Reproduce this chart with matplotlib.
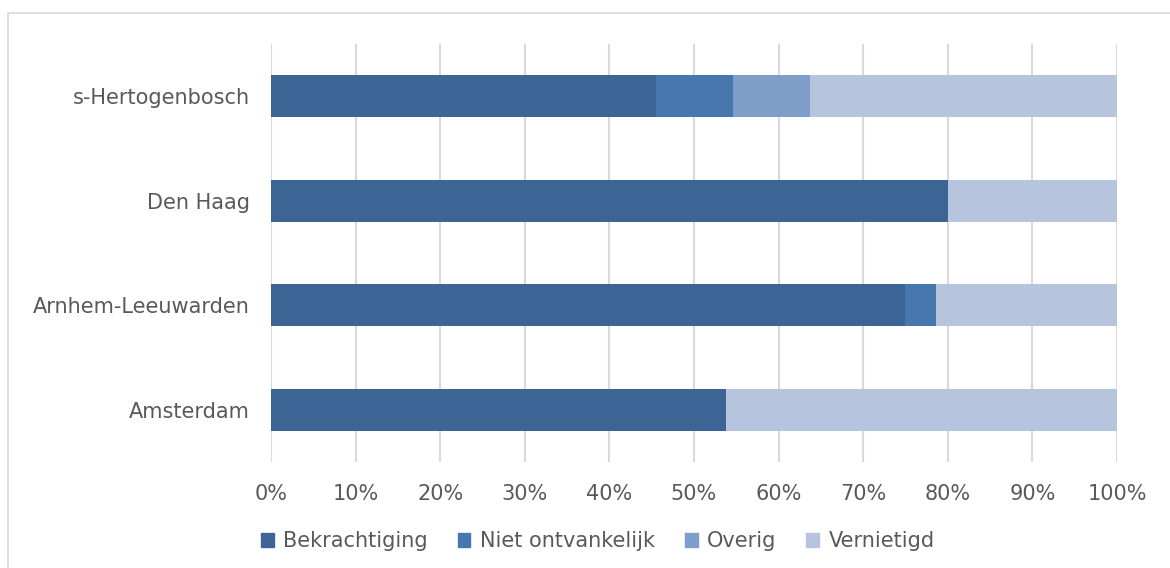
import matplotlib.pyplot as plt
import matplotlib.patches as mpatches
import numpy as np

# data (percent share per court)
courts = ['Amsterdam', 'Arnhem-Leeuwarden', 'Den Haag', 's-Hertogenbosch']
bekrachtiging = [53.8, 75.0, 80.0, 45.5]
niet_ontvankelijk = [0.0, 3.6, 0.0, 9.1]
overig = [0.0, 0.0, 0.0, 9.1]
vernietigd = [46.2, 21.4, 20.0, 36.3]

series = ['Bekrachtiging', 'Niet ontvankelijk', 'Overig', 'Vernietigd']
colors = ['#3C6494', '#4677AD', '#7F9DC9', '#B6C4DE']
text_color = '#595959'

plt.rcParams['font.family'] = ['DejaVu Sans']

fig = plt.figure(figsize=(11.7, 5.68), dpi=100)
ax = fig.add_axes([0.2316, 0.1866, 0.7231, 0.7359])

# outer chart border
fig.patches.append(mpatches.Rectangle((8 / 1170, -0.01), 1.2, 1 - 13 / 568 + 0.01,
                                      transform=fig.transFigure, fill=False,
                                      edgecolor='#D9D9D9', linewidth=1.2))

y = np.arange(len(courts))
left = np.zeros(len(courts))
for name, vals, c in zip(series, [bekrachtiging, niet_ontvankelijk, overig, vernietigd], colors):
    vals = np.array(vals)
    ax.barh(y, vals, left=left, height=0.4, color=c, label=name, zorder=3)
    left += vals

ax.set_xlim(0, 100)
ax.set_ylim(-0.5, 3.5)
ax.set_xticks(np.arange(0, 101, 10))
ax.set_xticklabels([f'{v}%' for v in range(0, 101, 10)])
ax.set_yticks(y)
ax.set_yticklabels(courts)
ax.tick_params(axis='both', length=0, labelsize=15, colors=text_color)
ax.tick_params(axis='x', pad=16)
ax.tick_params(axis='y', pad=15)
ax.xaxis.grid(True, color='#D9D9D9', linewidth=1.5, zorder=0)
for s in ax.spines.values():
    s.set_visible(False)

handles = [mpatches.Patch(color=c) for c in colors]
leg = fig.legend(handles, series, loc='center', bbox_to_anchor=(0.511, 0.047), ncol=4,
                 frameon=False, fontsize=15, handlelength=0.6, handleheight=0.6,
                 handletextpad=0.45, columnspacing=1.45)
for t in leg.get_texts():
    t.set_color(text_color)

fig.savefig('out.png', dpi=100)
